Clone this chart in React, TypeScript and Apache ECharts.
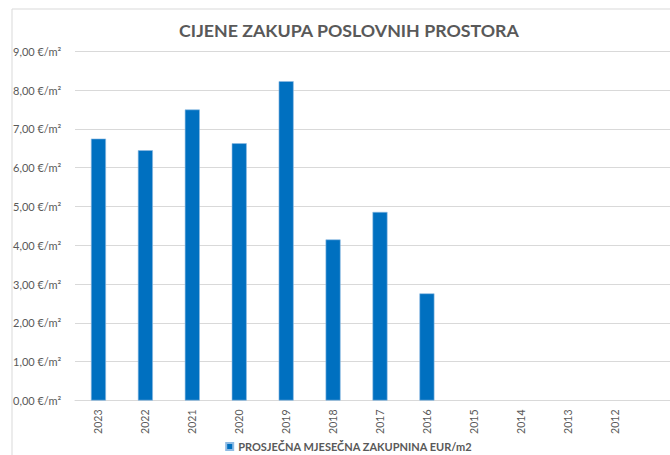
import React, { useEffect, useRef } from "react";
import * as echarts from "echarts";

const years = ["2023", "2022", "2021", "2020", "2019", "2018", "2017", "2016", "2015", "2014", "2013", "2012"];
const rentValues: (number | null)[] = [6.75, 6.45, 7.5, 6.63, 8.23, 4.15, 4.86, 2.76, null, null, null, null];
const seriesName = "PROSJEČNA MJESEČNA ZAKUPNINA EUR/m2";
const titleText = "CIJENE ZAKUPA POSLOVNIH PROSTORA";

export default function App() {
  const ref = useRef<HTMLDivElement>(null);
  useEffect(() => {
    if (!ref.current) return;
    const chart = echarts.init(ref.current, undefined, { renderer: "svg" });
    const categories = [...years, ""];
    const font = "Lato";
    chart.setOption({
      animation: false,
      backgroundColor: "#ffffff",
      title: {
        text: titleText,
        left: "center",
        top: 16,
        textStyle: { fontFamily: font, fontSize: 17.8, fontWeight: "bold", color: "#595959" },
      },
      legend: {
        data: [seriesName],
        left: "center",
        top: 436,
        itemWidth: 7,
        itemHeight: 7,
        itemGap: 3,
        icon: "rect",
        textStyle: { fontFamily: font, fontSize: 11, fontWeight: "bold", color: "#595959" },
      },
      graphic: [
        {
          type: "rect",
          shape: { x: 12, y: 9, width: 674, height: 470 },
          style: { fill: "none", stroke: "#d9d9d9", lineWidth: 1 },
          silent: true,
        },
      ],
      grid: { left: 75, right: 13, top: 51.3, bottom: 54.5, containLabel: false },
      xAxis: {
        type: "category",
        data: categories,
        axisLine: { lineStyle: { color: "#d9d9d9" } },
        axisTick: { show: false },
        axisLabel: {
          rotate: 90,
          interval: 0,
          margin: 9,
          fontFamily: font,
          fontSize: 10.5,
          color: "#595959",
        },
      },
      yAxis: {
        type: "value",
        min: 0,
        max: 9,
        interval: 1,
        axisLine: { show: false },
        axisTick: { show: false },
        splitLine: { lineStyle: { color: "#d9d9d9" } },
        axisLabel: {
          margin: 12,
          align: "left",
          padding: [0, 0, 0, -50],
          fontFamily: font,
          fontSize: 11,
          color: "#595959",
          formatter: (v: number) => v.toFixed(2).replace(".", ",") + " €/m²",
        },
      },
      series: [
        {
          name: seriesName,
          type: "bar",
          data: rentValues,
          barWidth: 15,
          itemStyle: { color: "#0070c0", borderColor: "#8fbbe3", borderWidth: 0.6 },
        },
      ],
    });
    return () => chart.dispose();
  }, []);
  return (
    <div style={{ position: "fixed", left: 0, top: 0, width: 670, height: 455, overflow: "hidden", background: "#fff" }}>
      <div ref={ref} style={{ width: 698, height: 455 }} />
    </div>
  );
}
